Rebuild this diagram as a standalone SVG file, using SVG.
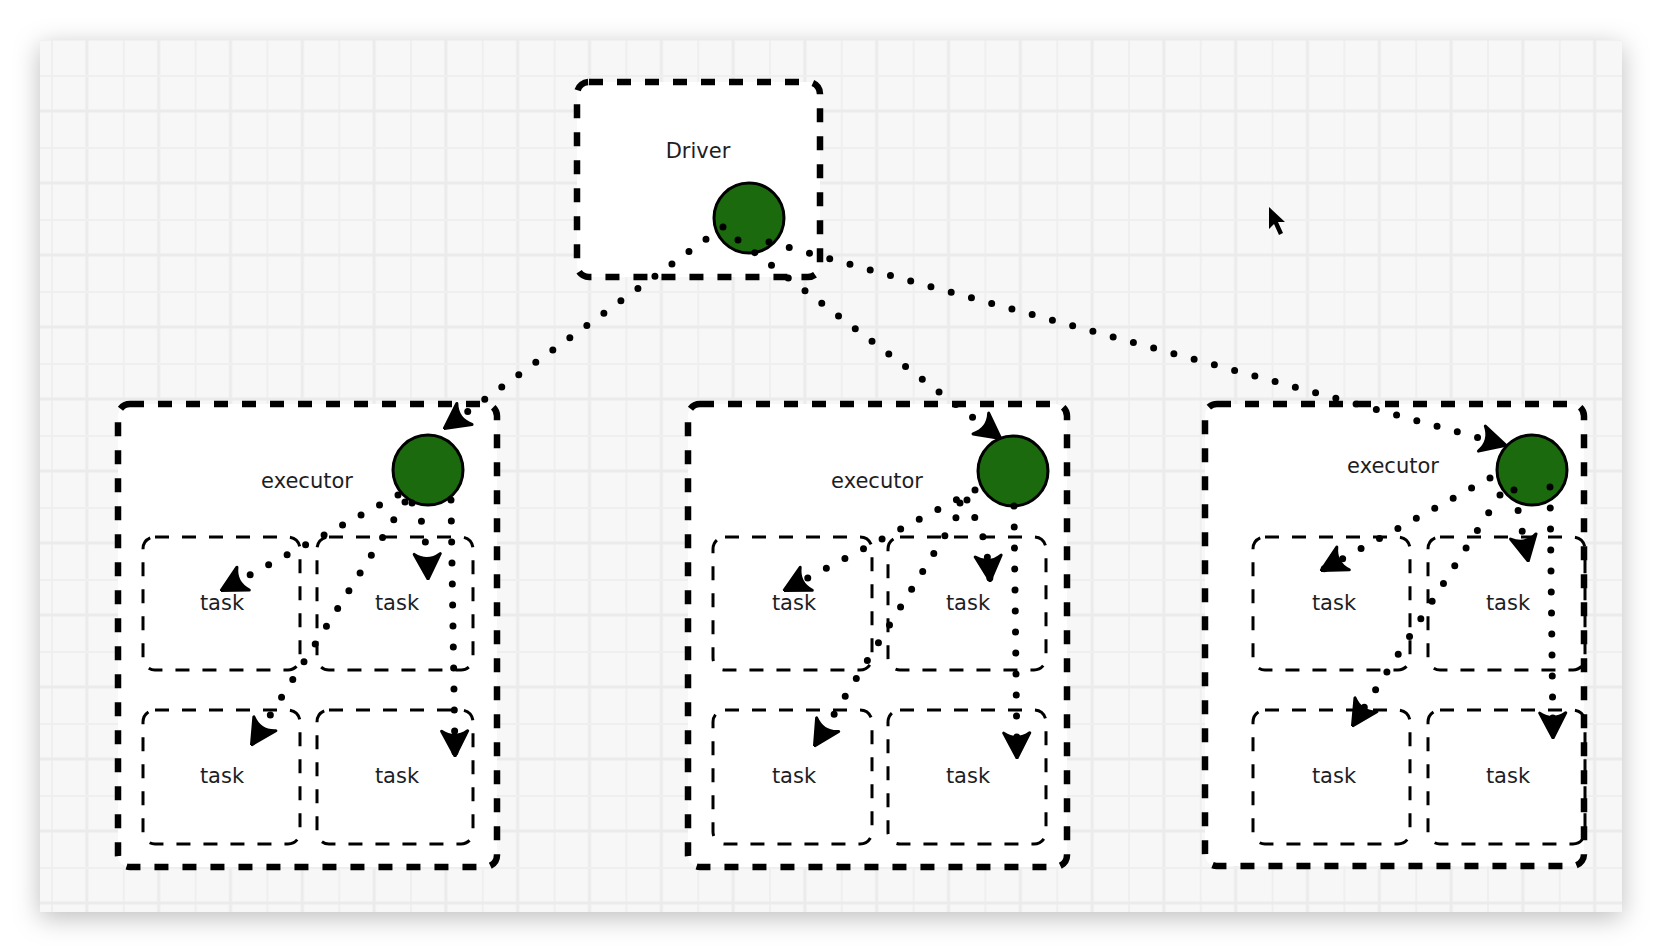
<svg xmlns="http://www.w3.org/2000/svg" width="1662" height="952" viewBox="0 0 1662 952">
  <defs>
    <style>
      .box { fill: #ffffff; stroke: #000; stroke-width: 6.5; stroke-dasharray: 14 14; }
      .task { fill: none; stroke: #000; stroke-width: 3; stroke-dasharray: 14 13; }
      .dot { fill: #1b6a0d; stroke: #000; stroke-width: 3; }
      .label { font-family: "DejaVu Sans", "Liberation Sans", sans-serif; font-size: 21px; fill: #1d1d24; text-anchor: middle; }
      .link { fill: none; stroke: #000; stroke-width: 7; stroke-linecap: round; stroke-dasharray: 0 21; marker-end: url(#head); }
    </style>
    <filter id="panelShadow" x="-5%" y="-8%" width="110%" height="118%">
      <feDropShadow dx="0" dy="6" stdDeviation="13" flood-color="#000" flood-opacity="0.26"/>
    </filter>
    <pattern id="grid" patternUnits="userSpaceOnUse" x="51" y="75" width="71.8" height="72">
      <rect x="0" y="0" width="2" height="72" fill="#efefef"/>
      <rect x="34.4" y="0" width="3" height="72" fill="#ebebeb"/>
      <rect x="0" y="0" width="71.8" height="2" fill="#efefef"/>
      <rect x="0" y="34.5" width="71.8" height="3" fill="#ebebeb"/>
    </pattern>
    <marker id="head" markerUnits="userSpaceOnUse" viewBox="-28 -16 30 32" markerWidth="30" markerHeight="32" refX="0" refY="0" orient="auto">
      <path d="M1,0 L-24,-13 Q-15,0 -24,13 Z" fill="#000" stroke="#000" stroke-width="3" stroke-linejoin="round"/>
    </marker>
  </defs>

  <!-- page and grid canvas -->
  <rect x="0" y="0" width="1662" height="952" fill="#ffffff"/>
  <rect x="40" y="40" width="1582" height="872" fill="#f7f7f7" filter="url(#panelShadow)"/>
  <rect x="40" y="40" width="1582" height="872" fill="url(#grid)"/>

  <!-- driver -->
  <g id="driver">
    <rect class="box" x="577" y="82" width="243" height="195" rx="12"/>
    <text class="label" x="698" y="158">Driver</text>
    <circle class="dot" cx="749" cy="218" r="35"/>
  </g>

  <!-- executor 1 -->
  <g id="executor1">
    <rect class="box" x="118" y="404" width="379" height="463" rx="12"/>
    <text class="label" x="307" y="488">executor</text>
    <circle class="dot" cx="428" cy="470" r="35"/>
  </g>
  <g id="executor1-task1"><rect class="task" x="143" y="537" width="157" height="133" rx="12"/><text class="label" x="222" y="610">task</text></g>
  <g id="executor1-task2"><rect class="task" x="317" y="537" width="156" height="133" rx="12"/><text class="label" x="397" y="610">task</text></g>
  <g id="executor1-task3"><rect class="task" x="143" y="710" width="157" height="134" rx="12"/><text class="label" x="222" y="783">task</text></g>
  <g id="executor1-task4"><rect class="task" x="317" y="710" width="156" height="134" rx="12"/><text class="label" x="397" y="783">task</text></g>

  <!-- executor 2 -->
  <g id="executor2">
    <rect class="box" x="688" y="404" width="379" height="463" rx="12"/>
    <text class="label" x="877" y="488">executor</text>
    <circle class="dot" cx="1013" cy="471" r="35"/>
  </g>
  <g id="executor2-task1"><rect class="task" x="713" y="537" width="159" height="133" rx="12"/><text class="label" x="794" y="610">task</text></g>
  <g id="executor2-task2"><rect class="task" x="888" y="537" width="158" height="133" rx="12"/><text class="label" x="968" y="610">task</text></g>
  <g id="executor2-task3"><rect class="task" x="713" y="710" width="159" height="134" rx="12"/><text class="label" x="794" y="783">task</text></g>
  <g id="executor2-task4"><rect class="task" x="888" y="710" width="158" height="134" rx="12"/><text class="label" x="968" y="783">task</text></g>

  <!-- executor 3 -->
  <g id="executor3">
    <rect class="box" x="1205" y="404" width="379" height="462" rx="12"/>
    <text class="label" x="1393" y="473">executor</text>
    <circle class="dot" cx="1532" cy="470" r="35"/>
  </g>
  <g id="executor3-task1"><rect class="task" x="1253" y="537" width="157" height="133" rx="12"/><text class="label" x="1334" y="610">task</text></g>
  <g id="executor3-task2"><rect class="task" x="1428" y="537" width="157" height="133" rx="12"/><text class="label" x="1508" y="610">task</text></g>
  <g id="executor3-task3"><rect class="task" x="1253" y="710" width="157" height="134" rx="12"/><text class="label" x="1334" y="783">task</text></g>
  <g id="executor3-task4"><rect class="task" x="1428" y="710" width="157" height="134" rx="12"/><text class="label" x="1508" y="783">task</text></g>

  <!-- dotted connectors -->
  <g id="connectors">
    <path class="link" d="M723,227 L445,428"/>
    <path class="link" d="M738,240 L1000,438"/>
    <path class="link" d="M769,242 L1505,445"/>

    <path class="link" d="M398,495 L222,590"/>
    <path class="link" d="M405,502 L252,744"/>
    <path class="link" d="M412,503 Q426,515 428,578"/>
    <path class="link" d="M451,500 L455,755"/>

    <path class="link" d="M975,490 L785,590"/>
    <path class="link" d="M967,500 L815,745"/>
    <path class="link" d="M960,503 Q985,515 990,580"/>
    <path class="link" d="M1014,506 L1017,757"/>

    <path class="link" d="M1490,478 L1322,570"/>
    <path class="link" d="M1500,495 L1353,725"/>
    <path class="link" d="M1514,490 L1528,560"/>
    <path class="link" d="M1550,487 L1553,737"/>
  </g>

  <!-- pointer -->
  <path d="M1269,207 L1269,229 L1274,224 L1279,235 L1283,233 L1278,222 L1285,222 Z" fill="#000"/>
</svg>
